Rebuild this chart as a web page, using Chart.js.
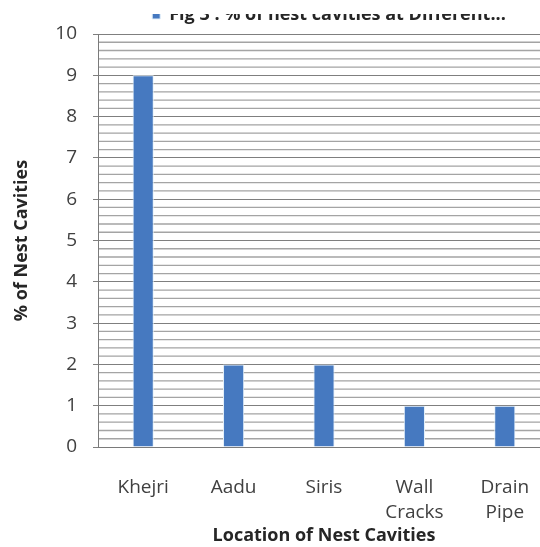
<!DOCTYPE html>
<html>
<head>
<meta charset="utf-8">
<script src="https://cdn.jsdelivr.net/npm/chart.js@4/dist/chart.umd.min.js"></script>
<style>
  html, body { margin: 0; padding: 0; background: #fff; }
  /* the frame crops the top strip and the right overhang of the plot */
  #frame { position: absolute; left: 0; top: 14px; width: 540px; height: 533px; overflow: hidden; }
  #box { position: absolute; left: 0; top: -14px; width: 560px; height: 547px; }
</style>
</head>
<body>
<div id="frame"><div id="box"><canvas id="c"></canvas></div></div>
<script>
// Nest cavity locations and their share (%)
const categories = [['Khejri'], ['Aadu'], ['Siris'], ['Wall', 'Cracks'], ['Drain', 'Pipe']];
const nestPercent = [9, 2, 2, 1, 1];
const yTickLabels = ['0', '1', '2', '3', '4', '5', '6', '7', '8', '9', '10'];
const minorPerMajor = 5;   // minor grid lines every 0.2
const seriesName = 'Fig 3 : % of nest cavities at Different...';
const xTitle = 'Location of Nest Cavities';
const yTitle = '% of Nest Cavities';

const FONT = '"Open Sans", "Liberation Sans", sans-serif';
const yMin = Number(yTickLabels[0]);
const yMax = Number(yTickLabels[yTickLabels.length - 1]);

// shifts the legend line to the right of the canvas centre
const legendShift = {
  id: 'legendShift',
  afterLayout(chart) {
    if (chart.legend) {
      chart.legend.left += 54;
      chart.legend.right += 54;
    }
  }
};

// minor horizontal grid lines placed through the y scale
const minorGrid = {
  id: 'minorGrid',
  beforeDatasetsDraw(chart) {
    const { ctx, chartArea, scales } = chart;
    const y = scales.y;
    ctx.save();
    ctx.strokeStyle = '#a4a4a4';
    ctx.lineWidth = 1.3;
    ctx.beginPath();
    for (let i = 0; i < yTickLabels.length - 1; i++) {
      const base = Number(yTickLabels[i]);
      for (let k = 1; k < minorPerMajor; k++) {
        const py = y.getPixelForValue(base + k / minorPerMajor);
        ctx.moveTo(chartArea.left + 1, py);
        ctx.lineTo(chartArea.right, py);
      }
    }
    ctx.stroke();
    ctx.restore();
  }
};

new Chart(document.getElementById('c'), {
  type: 'bar',
  data: {
    labels: categories,
    datasets: [{
      label: seriesName,
      data: nestPercent,
      backgroundColor: '#4679c0',
      borderColor: '#e3f0fa',
      borderWidth: 1,
      barPercentage: 0.9,
      categoryPercentage: 0.26
    }]
  },
  options: {
    responsive: true,
    maintainAspectRatio: false,
    animation: false,
    layout: { padding: { left: 0, right: 10, top: 0, bottom: 0 } },
    plugins: {
      legend: {
        display: true,
        position: 'top',
        labels: {
          boxWidth: 8,
          boxHeight: 8,
          padding: 6,
          color: '#262626',
          font: { family: FONT, size: 18, weight: 'bold' }
        }
      },
      tooltip: { enabled: false }
    },
    scales: {
      x: {
        grid: { display: false, drawTicks: false },
        border: { display: true, color: '#7a7a7a', width: 1 },
        ticks: {
          color: '#404040',
          padding: 28,
          maxRotation: 0,
          autoSkip: false,
          font: { family: FONT, size: 19, lineHeight: 1.32 }
        },
        title: {
          display: true,
          text: xTitle,
          color: '#262626',
          padding: { top: 0, bottom: 0 },
          font: { family: FONT, size: 18, weight: 'bold' }
        },
        afterFit(s) { s.height = 100; }
      },
      y: {
        min: yMin,
        max: yMax,
        grid: {
          color: '#7f7f7f',
          tickColor: '#7f7f7f',
          tickLength: 5,
          lineWidth: 1
        },
        border: { display: true, color: '#7a7a7a', width: 1 },
        ticks: {
          stepSize: 1,
          autoSkip: false,
          padding: 16,
          color: '#404040',
          font: { family: FONT, size: 19 },
          callback: v => yTickLabels[Math.round(v)]
        },
        title: {
          display: true,
          text: yTitle,
          color: '#262626',
          padding: { top: 11, bottom: 0 },
          font: { family: FONT, size: 18, weight: 'bold' }
        },
        afterFit(s) { s.width = 98; }
      }
    }
  },
  plugins: [legendShift, minorGrid]
});
</script>
</body>
</html>
